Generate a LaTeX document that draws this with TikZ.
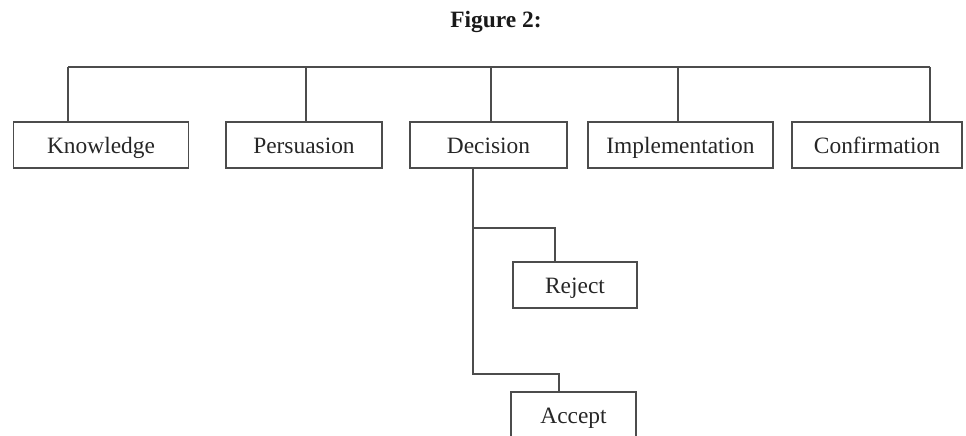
\documentclass[tikz,border=0pt]{standalone}
\usepackage{fontspec}
\setmainfont{Liberation Serif}
\usetikzlibrary{positioning,calc}

\begin{document}
\begin{tikzpicture}[x=0.5pt,y=-0.5pt,font=\fontsize{11.7}{14}\selectfont,
 stage/.style={draw=black!70,line width=0.75pt,text=black!85,minimum height=23pt,inner sep=0pt,text height=10pt,text depth=1.6pt},
 link/.style={draw=black!70,line width=0.6pt}]
\useasboundingbox (0,0) rectangle (966,435);
\node[font=\fontsize{11.7}{14}\selectfont\bfseries,text=black!90] (title) at (496,22) {Figure 2:};
\node[stage,minimum width=87.5pt] (kno) at (101,145) {Knowledge};
\node[stage,minimum width=78pt] (per) at (304,145) {Persuasion};
\node[stage,minimum width=78.5pt] (dec) at (488.5,145) {Decision};
\node[stage,minimum width=92.5pt] (imp) at (680.5,145) {Implementation};
\node[stage,minimum width=85pt] (con) at (877,145) {Confirmation};
\node[stage,minimum width=62pt] (rej) at (575,285) {Reject};
\node[stage,minimum width=62.5pt] (acc) at (573.5,415) {Accept};
% top bar and drops
\coordinate (bar) at (0,67);
\draw[link,line width=1pt] (bar -| kno.north) ++(-33,0) -- ($(bar -| con.north)+(53,0)$);
\foreach \n/\x in {kno/68,per/306,dec/491,imp/678,con/930}
  \draw[link] (bar -| \x,0) -- (\n.north -| \x,0);
% decision split
\coordinate (jr) at (473,228);
\coordinate (ja) at (473,374);
\draw[link] (dec.south -| ja) -- (ja) -| (acc.north -| 559,0);
\draw[link] (jr) -| (rej.north -| 555,0);
\end{tikzpicture}
\end{document}
